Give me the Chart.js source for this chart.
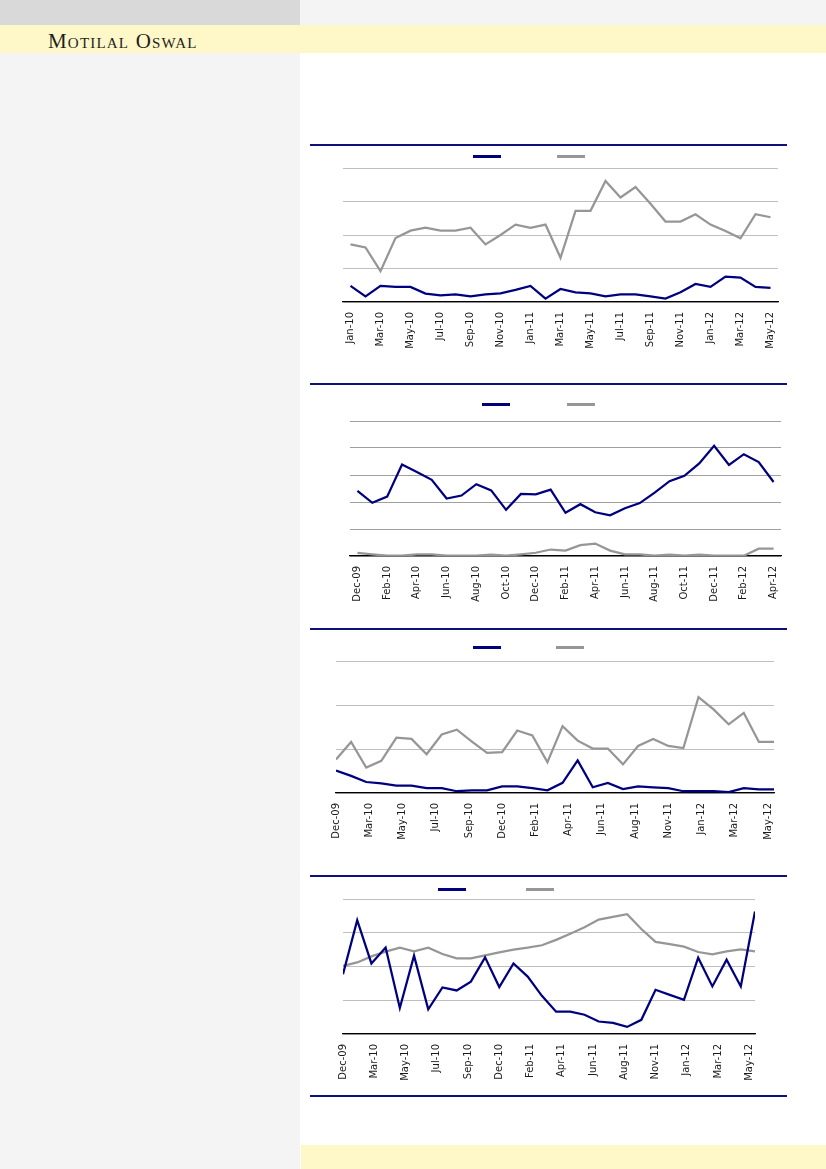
<!DOCTYPE html>
<html>
<head>
<meta charset="utf-8">
<script src="https://cdn.jsdelivr.net/npm/chart.js@4"></script>
<style>
  body { margin: 0; width: 826px; height: 1169px; position: relative; background: #fff; overflow: hidden; }
  .blk { position: absolute; }
  .rule { position: absolute; left: 310px; width: 477px; height: 1.5px; background: #10107a; }
  .key { position: absolute; width: 28px; height: 3px; }
  .box { position: absolute; }
  #brand { position: absolute; left: 48px; top: 29px; font: 21px "Liberation Serif", serif; font-variant: small-caps; letter-spacing: 1.2px; color: #1e1e1e; }
</style>
</head>
<body>
<div class="blk" style="left:0;top:0;width:300px;height:25px;background:#d9d9d9"></div>
<div class="blk" style="left:300px;top:0;width:526px;height:25px;background:#f4f4f4"></div>
<div class="blk" style="left:0;top:25px;width:826px;height:28px;background:#fef8c8"></div>
<div class="blk" style="left:0;top:53px;width:300px;height:1116px;background:#f4f4f4"></div>
<div class="blk" style="left:301px;top:1145px;width:525px;height:24px;background:#fef8c8"></div>
<div id="brand">Motilal Oswal</div>

<div class="rule" style="top:144px"></div>
<div class="rule" style="top:383px"></div>
<div class="rule" style="top:628px"></div>
<div class="rule" style="top:875px"></div>
<div class="rule" style="top:1095px"></div>

<div class="key" style="left:473px;top:155px;background:#00007f"></div>
<div class="key" style="left:557px;top:155px;background:#969696"></div>
<div class="key" style="left:482px;top:403px;background:#00007f"></div>
<div class="key" style="left:567px;top:403px;background:#969696"></div>
<div class="key" style="left:473px;top:646px;background:#00007f"></div>
<div class="key" style="left:556px;top:646px;background:#969696"></div>
<div class="key" style="left:438px;top:888px;background:#00007f"></div>
<div class="key" style="left:526px;top:888px;background:#969696"></div>

<div class="box" style="left:333px;top:164px;width:455px;height:198px"><canvas id="c1"></canvas></div>
<div class="box" style="left:340px;top:417px;width:451px;height:199px"><canvas id="c2"></canvas></div>
<div class="box" style="left:326px;top:657px;width:458px;height:196px"><canvas id="c3"></canvas></div>
<div class="box" style="left:333px;top:895px;width:432px;height:199px"><canvas id="c4"></canvas></div>

<script>
// chart 1: Jan-10 .. May-12
const months1 = ['Jan-10','Feb-10','Mar-10','Apr-10','May-10','Jun-10','Jul-10','Aug-10','Sep-10','Oct-10','Nov-10','Dec-10',
  'Jan-11','Feb-11','Mar-11','Apr-11','May-11','Jun-11','Jul-11','Aug-11','Sep-11','Oct-11','Nov-11','Dec-11',
  'Jan-12','Feb-12','Mar-12','Apr-12','May-12'];
const blue1 = [4.8,1.7,4.8,4.5,4.5,2.5,2.0,2.3,1.7,2.3,2.6,3.6,4.8,1.0,3.9,2.9,2.6,1.7,2.3,2.3,1.7,1.0,2.9,5.4,4.5,7.6,7.3,4.5,4.2];
const grey1 = [17.2,16.3,9.2,19.1,21.3,22.2,21.3,21.3,22.2,17.2,20.0,23.1,22.1,23.1,13.2,27.2,27.2,36.1,31.2,34.3,29.3,24.0,24.0,26.2,23.1,21.2,19.0,26.2,25.3];

// chart 2: Dec-09 .. Apr-12
const months2 = ['Dec-09','Jan-10','Feb-10','Mar-10','Apr-10','May-10','Jun-10','Jul-10','Aug-10','Sep-10','Oct-10','Nov-10','Dec-10',
  'Jan-11','Feb-11','Mar-11','Apr-11','May-11','Jun-11','Jul-11','Aug-11','Sep-11','Oct-11','Nov-11','Dec-11',
  'Jan-12','Feb-12','Mar-12','Apr-12'];
const blue2 = [24.1,19.7,22.0,33.9,31.1,28.2,21.3,22.4,26.6,24.3,17.1,23.0,22.8,24.6,16.0,19.2,16.2,15.1,17.7,19.6,23.5,27.7,29.7,34.3,40.8,33.7,37.7,34.8,27.4];
const grey2 = [1.2,0.6,0.1,0.1,0.6,0.6,0.1,0.1,0.1,0.5,0.1,0.6,1.2,2.4,2.0,4.0,4.6,2.0,0.6,0.6,0.1,0.5,0.1,0.5,0.1,0.1,0.1,2.7,2.7];

// charts 3 and 4: Dec-09 .. May-12 on a date axis (labels every 67 days)
const months3 = ['Dec-09','Jan-10','Feb-10','Mar-10','Apr-10','May-10','Jun-10','Jul-10','Aug-10','Sep-10','Oct-10','Nov-10','Dec-10',
  'Jan-11','Feb-11','Mar-11','Apr-11','May-11','Jun-11','Jul-11','Aug-11','Sep-11','Oct-11','Nov-11','Dec-11',
  'Jan-12','Feb-12','Mar-12','Apr-12','May-12'];
const dateTicks = ['Dec-09','Mar-10','May-10','Jul-10','Sep-10','Dec-10','Feb-11','Apr-11','Jun-11','Aug-11','Nov-11','Jan-12','Mar-12','May-12'];
const tickStep = 2.2; // months between date labels

const blue3 = [5.1,3.9,2.5,2.2,1.7,1.7,1.1,1.1,0.4,0.6,0.6,1.5,1.5,1.1,0.6,2.3,7.4,1.3,2.3,0.9,1.5,1.3,1.1,0.4,0.4,0.4,0.2,1.1,0.8,0.8];
const grey3 = [7.6,11.6,5.8,7.3,12.6,12.3,8.8,13.3,14.4,11.7,9.1,9.3,14.2,13.1,7.0,15.2,11.9,10.1,10.1,6.5,10.7,12.3,10.7,10.2,21.8,19.0,15.6,18.2,11.6,11.6];

const blue4 = [17.7,33.7,20.9,25.6,7.7,23.2,7.3,13.8,12.9,15.5,22.7,13.9,20.9,17.0,11.3,6.6,6.6,5.7,3.7,3.3,2.1,4.2,13.1,11.6,10.1,22.6,14.1,22.0,14.1,36.3];
const grey4 = [20.2,21.2,23.0,24.4,25.6,24.5,25.6,23.7,22.4,22.4,23.3,24.2,25.0,25.6,26.3,27.9,29.7,31.6,33.9,34.7,35.5,31.1,27.3,26.6,25.9,24.3,23.6,24.5,25.1,24.5];

const BLUE = '#00007f';
const GREY = '#969696';

function series(b, g) {
  return [
    { data: b, borderColor: BLUE, borderWidth: 2.25, pointRadius: 0, tension: 0 },
    { data: g, borderColor: GREY, borderWidth: 2.25, pointRadius: 0, tension: 0 }
  ];
}

function yAxis(max, gridColor) {
  return {
    min: 0, max: max,
    ticks: { display: false, stepSize: 10 },
    grid: { color: gridColor, lineWidth: 1, drawTicks: false },
    border: { display: false },
    afterFit: s => { s.width = 0; }
  };
}

function xBase() {
  return {
    grid: { display: false, drawTicks: false },
    border: { display: true, color: '#000', width: 1.3 },
    ticks: { autoSkip: false, maxRotation: 90, minRotation: 90, padding: 10, color: '#1a1a1a',
             font: { family: 'DejaVu Sans', size: 10 } },
    afterFit: s => { s.height = 60; s.paddingLeft = 0; s.paddingRight = 0; }
  };
}

function baseOpts() {
  return {
    responsive: true,
    maintainAspectRatio: false,
    animation: false,
    layout: { padding: { top: 4, left: 10, right: 10, bottom: 0 } },
    plugins: { legend: { display: false }, tooltip: { enabled: false } }
  };
}

function categoryChart(id, labels, b, g, ymax, gridColor) {
  const x = xBase();
  x.type = 'category';
  x.offset = true;
  x.ticks.callback = (v, i) => i % 2 === 0 ? labels[i] : '';
  const opts = baseOpts();
  opts.scales = { x: x, y: yAxis(ymax, gridColor) };
  new Chart(document.getElementById(id), {
    type: 'line',
    data: { labels: labels, datasets: series(b, g) },
    options: opts
  });
}

function dateChart(id, b, g, ymax, gridColor) {
  const x = xBase();
  x.type = 'linear';
  x.min = 0;
  x.max = months3.length - 1;
  x.bounds = 'data';
  x.afterBuildTicks = s => { s.ticks = dateTicks.map((t, i) => ({ value: i * tickStep })); };
  x.ticks.callback = (v, i) => dateTicks[i];
  const opts = baseOpts();
  opts.scales = { x: x, y: yAxis(ymax, gridColor) };
  const pts = arr => arr.map((y, i) => ({ x: i, y: y }));
  new Chart(document.getElementById(id), {
    type: 'line',
    data: { datasets: series(pts(b), pts(g)) },
    options: opts
  });
}

categoryChart('c1', months1, blue1, grey1, 40, '#bfbfbf');
categoryChart('c2', months2, blue2, grey2, 50, '#a0a0a0');
dateChart('c3', blue3, grey3, 30, '#bfbfbf');
dateChart('c4', blue4, grey4, 40, '#bfbfbf');
</script>
</body>
</html>
